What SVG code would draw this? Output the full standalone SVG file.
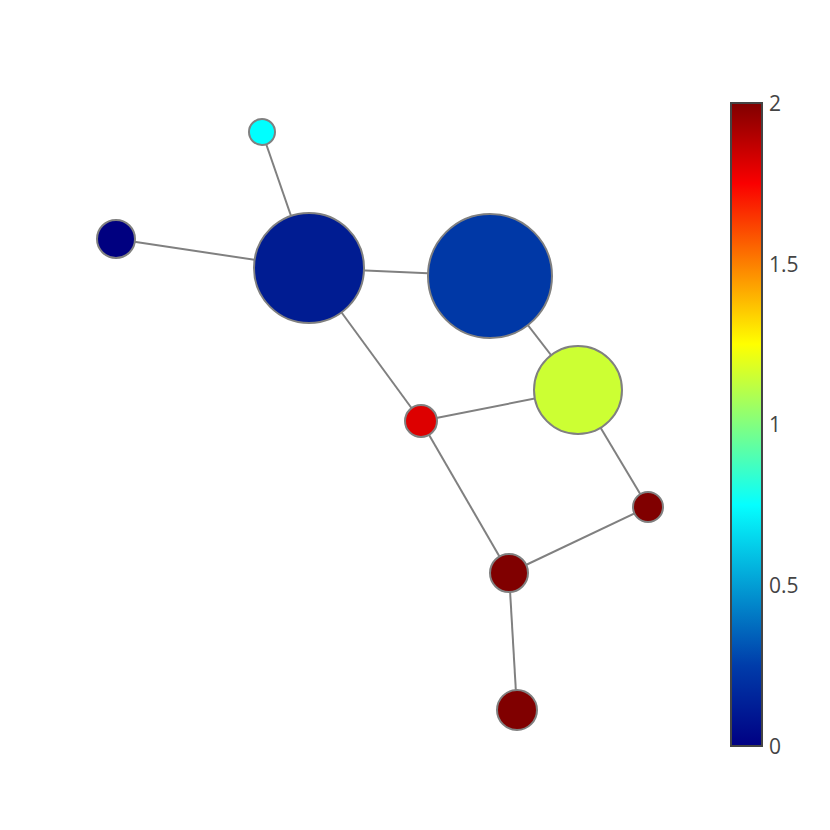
<svg xmlns="http://www.w3.org/2000/svg" width="830" height="830" viewBox="0 0 830 830">
<style>
.e{stroke:#808080;stroke-width:2;fill:none}
.n{stroke:#808080;stroke-width:2}
.t{font-family:"Open Sans","Liberation Sans",sans-serif;font-size:21px;fill:#444}
</style>
<defs>
<linearGradient id="jet" x1="0" y1="1" x2="0" y2="0">
<stop offset="0" stop-color="rgb(0,0,131)"/>
<stop offset="0.125" stop-color="rgb(0,60,170)"/>
<stop offset="0.375" stop-color="rgb(5,255,255)"/>
<stop offset="0.625" stop-color="rgb(255,255,0)"/>
<stop offset="0.875" stop-color="rgb(250,0,0)"/>
<stop offset="1" stop-color="rgb(128,0,0)"/>
</linearGradient>
</defs>
<rect width="830" height="830" fill="#fff"/>
<g id="edges">
<line class="e" x1="262" y1="132" x2="309" y2="268"/>
<line class="e" x1="116" y1="239" x2="309" y2="268"/>
<line class="e" x1="309" y1="268" x2="490" y2="276"/>
<line class="e" x1="309" y1="268" x2="421" y2="421"/>
<line class="e" x1="490" y1="276" x2="578" y2="390"/>
<line class="e" x1="578" y1="390" x2="421" y2="421"/>
<line class="e" x1="578" y1="390" x2="648" y2="507"/>
<line class="e" x1="421" y1="421" x2="509" y2="573"/>
<line class="e" x1="648" y1="507" x2="509" y2="573"/>
<line class="e" x1="509" y1="573" x2="517" y2="710"/>
</g>
<g id="n1"><circle class="n" cx="262" cy="132" r="13" fill="#00ffff"/></g>
<g id="n2"><circle class="n" cx="116" cy="239" r="19" fill="#000080"/></g>
<g id="n3"><circle class="n" cx="309" cy="268" r="55" fill="#001c92"/></g>
<g id="n4"><circle class="n" cx="490" cy="276" r="62" fill="#0038a6"/></g>
<g id="n5"><circle class="n" cx="578" cy="390" r="44" fill="#ccff33"/></g>
<g id="n6"><circle class="n" cx="421" cy="421" r="16" fill="#dd0000"/></g>
<g id="n7"><circle class="n" cx="648" cy="507" r="15" fill="#800000"/></g>
<g id="n8"><circle class="n" cx="509" cy="573" r="19" fill="#800000"/></g>
<g id="n9"><circle class="n" cx="517" cy="710" r="20" fill="#800000"/></g>
<g id="colorbar">
<rect x="731" y="103" width="31" height="643" fill="url(#jet)" stroke="#444" stroke-width="2"/>
<text class="t" x="769" y="111">2</text>
<text class="t" x="769" y="272">1.5</text>
<text class="t" x="769" y="432">1</text>
<text class="t" x="769" y="593">0.5</text>
<text class="t" x="769" y="754">0</text>
</g>
</svg>
